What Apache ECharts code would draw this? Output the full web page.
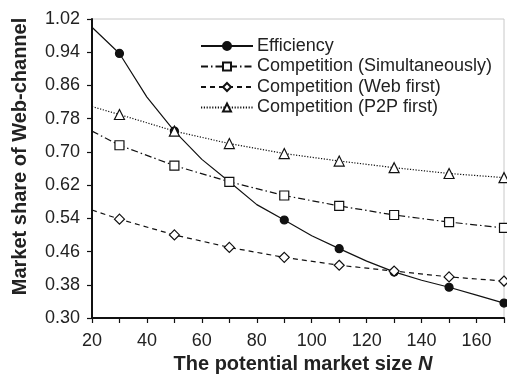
<!DOCTYPE html>
<html><head><meta charset="utf-8">
<script src="https://cdn.jsdelivr.net/npm/echarts@6/dist/echarts.min.js"></script>
<style>html,body{margin:0;padding:0;background:#fff}#c{width:507px;height:380px}</style>
</head><body><div id="c"></div>
<script>
// Data
const effN   = [20, 30, 40, 50, 60, 70, 80, 90, 100, 110, 120, 130, 140, 150, 160, 170];
const effVal = [1.00, 0.937, 0.832, 0.750, 0.682, 0.628, 0.573, 0.536, 0.498, 0.467, 0.437, 0.411, 0.391, 0.374, 0.355, 0.336];
const compN  = [20, 30, 50, 70, 90, 110, 130, 150, 170];
const simVal = [0.750, 0.716, 0.667, 0.628, 0.595, 0.570, 0.548, 0.531, 0.517];
const webVal = [0.560, 0.538, 0.500, 0.470, 0.446, 0.427, 0.413, 0.399, 0.389];
const p2pVal = [0.809, 0.790, 0.750, 0.720, 0.696, 0.678, 0.662, 0.648, 0.638];
const markerN = [30, 50, 70, 90, 110, 130, 150, 170];
const seriesNames = ['Efficiency', 'Competition (Simultaneously)', 'Competition (Web first)', 'Competition (P2P first)'];
const xTitle = 'The potential market size ';
const xTitleVar = 'N';
const yTitle = 'Market share of Web-channel';

function build(ns, vs) {
  return ns.map((n, i) => markerN.includes(n) ? { value: [n, vs[i]] } : { value: [n, vs[i]], symbol: 'none' });
}
const FONT = '"Liberation Sans", Arial, sans-serif';
const chart = echarts.init(document.getElementById('c'), null, { renderer: 'canvas' });
function mk(name, data, symbol, size, dash) {
  return {
    name, type: 'line', data, symbol, symbolSize: size, showSymbol: true,
    lineStyle: { color: '#111', width: 1.2, type: dash },
    itemStyle: { color: symbol === 'circle' ? '#111' : '#fff', borderColor: '#111', borderWidth: 1.2 },
    emphasis: { disabled: true }, animation: false, z: 3
  };
}
chart.setOption({
  animation: false,
  backgroundColor: '#fff',
  grid: { left: 92, right: 2, top: 19, bottom: 62, show: true, borderColor: '#c8c8c8', borderWidth: 1 },
  legend: {
    orient: 'vertical', left: 195, top: 32, itemWidth: 52, itemHeight: 10, itemGap: 2.5,
    textStyle: { fontFamily: FONT, fontSize: 18, color: '#222', padding: [0, 0, 0, -1] },
    data: seriesNames
  },
  xAxis: {
    type: 'value', min: 20, max: 170, interval: 10,
    axisLine: { show: true, lineStyle: { color: '#111', width: 2 } },
    axisTick: { show: true, length: 5, lineStyle: { color: '#111', width: 1.2 } },
    splitLine: { show: false },
    axisLabel: { fontFamily: FONT, fontSize: 18, color: '#222', margin: 14,
      formatter: v => (Math.round(v) % 20 === 0 ? String(Math.round(v)) : '') },
    name: '{a|' + xTitle + '}{b|' + xTitleVar + '}', nameLocation: 'middle', nameGap: 33,
    nameTextStyle: { padding: [0, 0, 0, 10],
      rich: { a: { fontFamily: FONT, fontSize: 20, fontWeight: 'bold', color: '#222' },
              b: { fontFamily: FONT, fontSize: 20, fontWeight: 'bold', fontStyle: 'italic', color: '#222' } } }
  },
  yAxis: {
    type: 'value', min: 0.30, max: 1.02, interval: 0.08,
    axisLine: { show: true, lineStyle: { color: '#111', width: 2 } },
    axisTick: { show: true, length: 5, lineStyle: { color: '#111', width: 1.2 } },
    splitLine: { show: false },
    axisLabel: { fontFamily: FONT, fontSize: 18, color: '#222', margin: 12, formatter: v => v.toFixed(2) },
    name: yTitle, nameLocation: 'middle', nameGap: 62,
    nameTextStyle: { fontFamily: FONT, fontSize: 20, fontWeight: 'bold', color: '#222', padding: [0, 0, 0, 24] }
  },
  series: [
    mk(seriesNames[0], build(effN, effVal), 'circle', 8, 'solid'),
    mk(seriesNames[1], build(compN, simVal), 'rect', 9, [7, 3, 1.5, 3]),
    mk(seriesNames[2], build(compN, webVal), 'diamond', 10, [5, 4]),
    mk(seriesNames[3], build(compN, p2pVal), 'triangle', 10, [1.2, 1.6])
  ]
});
</script></body></html>
